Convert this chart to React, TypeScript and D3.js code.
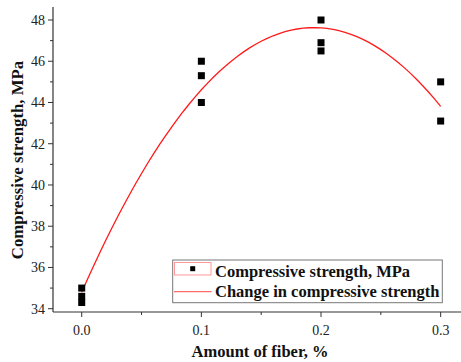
import React from "react";
import * as d3 from "d3";

const fiberAmounts = [0, 0, 0, 0.1, 0.1, 0.1, 0.2, 0.2, 0.2, 0.3, 0.3];
const strengths = [35, 34.6, 34.3, 46, 45.3, 44, 48, 46.9, 46.5, 45, 43.1];
const xTicks = [0, 0.1, 0.2, 0.3];
const yTicks = [34, 36, 38, 40, 42, 44, 46, 48];
const legendLabels = ["Compressive strength, MPa", "Change in compressive strength"];

function quadFit(xs: number[], ys: number[]) {
  const S = [[0, 0, 0], [0, 0, 0], [0, 0, 0]];
  const T = [0, 0, 0];
  xs.forEach((x, i) => {
    const p = [1, x, x * x];
    for (let r = 0; r < 3; r++) {
      for (let c = 0; c < 3; c++) S[r][c] += p[r] * p[c];
      T[r] += p[r] * ys[i];
    }
  });
  const M = S.map((row, i) => [...row, T[i]]);
  for (let i = 0; i < 3; i++) {
    for (let k = i + 1; k < 3; k++) {
      const f = M[k][i] / M[i][i];
      for (let j = i; j < 4; j++) M[k][j] -= f * M[i][j];
    }
  }
  const sol = [0, 0, 0];
  for (let i = 2; i >= 0; i--) {
    let s = M[i][3];
    for (let j = i + 1; j < 3; j++) s -= M[i][j] * sol[j];
    sol[i] = s / M[i][i];
  }
  return sol;
}

const font = "\"Liberation Serif\", Tinos, \"Times New Roman\", \"DejaVu Serif\", serif";

export default function App() {
  const W = 461, H = 362;
  const x = d3.scaleLinear().domain([-0.024, 0.317]).range([53, 461]);
  const y = d3.scaleLinear().domain([34, 48]).range([308.7, 20]);
  const yBottom = 312, yTop = 7, xLeft = 53;
  const [a, b, c] = quadFit(fiberAmounts, strengths);
  const curvePts = d3.range(0, 0.3001, 0.005).map((v) => [v, a + b * v + c * v * v] as [number, number]);
  const line = d3.line<[number, number]>().x((d) => x(d[0])).y((d) => y(d[1]));
  const yMinor = d3.range(35, 48, 2);
  const xMinor = [0.05, 0.15, 0.25];
  const axisColor = "#333";
  const txt = { fontFamily: font };
  const bold = 16.5;
  return (
    <svg width={W} height={H} style={{ position: "absolute", left: 0, top: 0 }}>
      <rect width={W} height={H} fill="#fff" />
      <line x1={xLeft} x2={xLeft} y1={yTop} y2={yBottom} stroke={axisColor} strokeWidth={1.2} />
      <line x1={xLeft} x2={W} y1={yBottom} y2={yBottom} stroke={axisColor} strokeWidth={1.2} />
      {yTicks.map((t) => (
        <g key={"y" + t}>
          <line x1={xLeft - 5} x2={xLeft} y1={y(t)} y2={y(t)} stroke={axisColor} strokeWidth={1} />
          <text x={xLeft - 8} y={y(t)} dy="0.35em" textAnchor="end" style={txt} fontSize={14} fill="#222">
            {t}
          </text>
        </g>
      ))}
      {yMinor.map((t) => (
        <line key={"ym" + t} x1={xLeft - 3} x2={xLeft} y1={y(t)} y2={y(t)} stroke={axisColor} strokeWidth={1} />
      ))}
      {xTicks.map((t) => (
        <g key={"x" + t}>
          <line x1={x(t)} x2={x(t)} y1={yBottom} y2={yBottom + 5} stroke={axisColor} strokeWidth={1} />
          <text x={x(t)} y={330} dy="0.35em" textAnchor="middle" style={txt} fontSize={14} fill="#222">
            {t.toFixed(1)}
          </text>
        </g>
      ))}
      {xMinor.map((t) => (
        <line key={"xm" + t} x1={x(t)} x2={x(t)} y1={yBottom} y2={yBottom + 3} stroke={axisColor} strokeWidth={1} />
      ))}
      <text x={260} y={357} textAnchor="middle" style={txt} fontWeight="bold" fontSize={bold} fill="#111">
        Amount of fiber, %
      </text>
      <text
        transform={`translate(23,160) rotate(-90)`}
        textAnchor="middle"
        style={txt}
        fontWeight="bold"
        fontSize={bold + 0.3}
        fill="#111"
      >
        Compressive strength, MPa
      </text>
      <path d={line(curvePts) || ""} fill="none" stroke="#ff1a1a" strokeWidth={1.3} />
      {fiberAmounts.map((f, i) => (
        <rect key={"p" + i} x={x(f) - 3.5} y={y(strengths[i]) - 3.5} width={7} height={7} fill="#000" />
      ))}
      <g>
        <rect x={172.7} y={260} width={269.6} height={42.7} fill="#fff" stroke="#777" strokeWidth={1} />
        <rect x={174.5} y={262.5} width={36.5} height={12.5} fill="#fff" stroke="#f99" strokeWidth={1} />
        <rect x={190.2} y={266.2} width={5} height={5} fill="#000" />
        <line x1={174} x2={211.5} y1={291.7} y2={291.7} stroke="#ff6b6b" strokeWidth={1.3} />
        <text x={215} y={276.5} style={txt} fontWeight="bold" fontSize={bold} fill="#111">
          {legendLabels[0]}
        </text>
        <text x={215} y={296.5} style={txt} fontWeight="bold" fontSize={bold} fill="#111">
          {legendLabels[1]}
        </text>
      </g>
    </svg>
  );
}
